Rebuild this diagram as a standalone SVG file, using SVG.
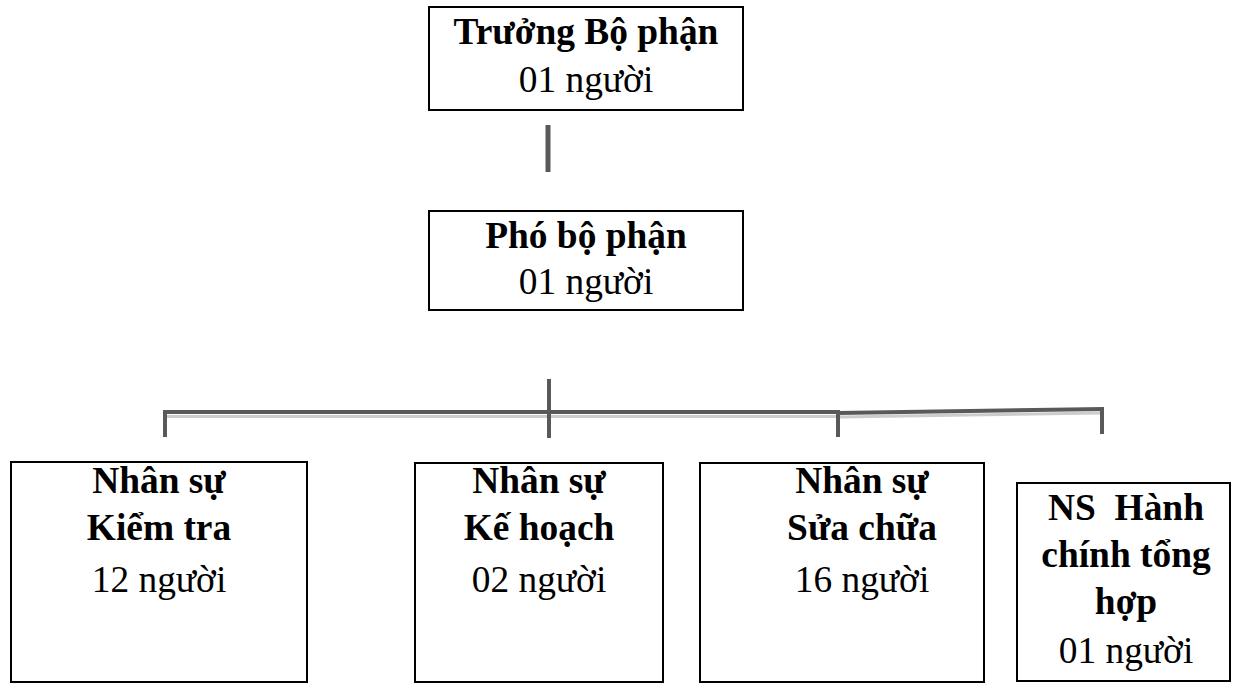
<svg xmlns="http://www.w3.org/2000/svg" width="1240" height="684" viewBox="0 0 1240 684">
  <style>
    .box { fill: #ffffff; stroke: #000000; stroke-width: 2; }
    .t { font-family: "Liberation Serif", "Times New Roman", serif; font-size: 37.4px; fill: #000000; text-anchor: middle; }
    .b { font-weight: bold; }
    .ln { stroke: #595959; fill: none; stroke-linecap: butt; }
    .sh { stroke: #cccccc; fill: none; }
  </style>
  <rect width="1240" height="684" fill="#ffffff"/>

  <!-- connectors -->
  <g id="connectors">
    <!-- head to deputy -->
    <line class="ln" x1="548" y1="125" x2="548" y2="172" stroke-width="5"/>
    <!-- soft shadow under the bus -->
    <line class="sh" x1="167" y1="416.5" x2="838" y2="416.5" stroke-width="3"/>
    <line class="sh" x1="840" y1="417" x2="1100" y2="413" stroke-width="3"/>
    <!-- bus -->
    <line class="ln" x1="163" y1="412" x2="840" y2="412" stroke-width="4"/>
    <line class="ln" x1="838" y1="413" x2="1104" y2="409" stroke-width="4"/>
    <!-- trunk from deputy -->
    <line class="ln" x1="549" y1="379" x2="549" y2="438" stroke-width="4"/>
    <!-- drops -->
    <line class="ln" x1="165" y1="411" x2="165" y2="437" stroke-width="4"/>
    <line class="ln" x1="838" y1="413" x2="838" y2="437" stroke-width="4"/>
    <line class="ln" x1="1102" y1="408" x2="1102" y2="434" stroke-width="4"/>
  </g>

  <g id="truong-bo-phan">
    <rect class="box" x="429" y="7" width="314" height="103"/>
    <text class="t b" x="586" y="44">Trưởng Bộ phận</text>
    <text class="t" x="586" y="92">01 người</text>
  </g>

  <g id="pho-bo-phan">
    <rect class="box" x="429" y="211" width="314" height="99"/>
    <text class="t b" x="586" y="248">Phó bộ phận</text>
    <text class="t" x="586" y="294">01 người</text>
  </g>

  <g id="ns-kiem-tra">
    <rect class="box" x="11" y="462" width="296" height="220"/>
    <text class="t b" x="159" y="493">Nhân sự</text>
    <text class="t b" x="159" y="540">Kiểm tra</text>
    <text class="t" x="159" y="592">12 người</text>
  </g>

  <g id="ns-ke-hoach">
    <rect class="box" x="415" y="463" width="248" height="219"/>
    <text class="t b" x="539" y="493">Nhân sự</text>
    <text class="t b" x="539" y="540">Kế hoạch</text>
    <text class="t" x="539" y="592">02 người</text>
  </g>

  <g id="ns-sua-chua">
    <rect class="box" x="700" y="463" width="284" height="219"/>
    <text class="t b" x="862" y="493">Nhân sự</text>
    <text class="t b" x="862" y="540">Sửa chữa</text>
    <text class="t" x="862" y="592">16 người</text>
  </g>

  <g id="ns-hanh-chinh">
    <rect class="box" x="1017" y="483" width="213" height="198"/>
    <text class="t b" x="1126" y="520">NS&#160; Hành</text>
    <text class="t b" x="1126" y="567">chính tổng</text>
    <text class="t b" x="1126" y="614">hợp</text>
    <text class="t" x="1126" y="663">01 người</text>
  </g>
</svg>
